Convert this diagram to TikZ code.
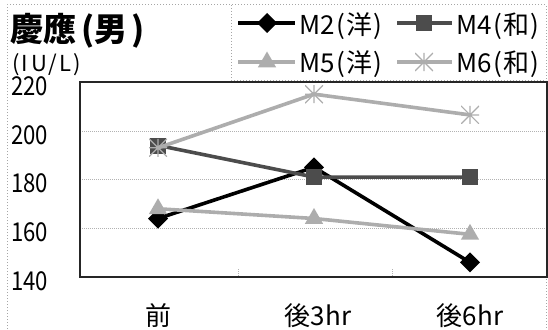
\documentclass[tikz,border=0pt]{standalone}
\usepackage{fontspec}
\setmainfont{Noto Sans CJK JP}
\usetikzlibrary{shapes.geometric}
\definecolor{darkser}{gray}{0.30}
\definecolor{lightser}{gray}{0.68}
\tikzset{
  diam/.style = {diamond, fill=black, minimum size=#1,
                 inner sep=0pt, outer sep=0pt},
  diam/.default = 20pt,
  sqr/.style = {rectangle, fill=darkser, draw=black!70, minimum size=#1,
                inner sep=0pt, outer sep=0pt},
  sqr/.default = 15pt,
  tri/.style = {regular polygon, regular polygon sides=3, fill=lightser,
                minimum size=#1, inner sep=0pt, outer sep=0pt},
  tri/.default = 21pt,
  ast/.style = {rectangle, minimum size=#1, inner sep=0pt, outer sep=0pt,
                path picture={
                  \draw[lightser, line width=1.2pt]
                    (path picture bounding box.north) -- (path picture bounding box.south)
                    (path picture bounding box.east) -- (path picture bounding box.west)
                    (path picture bounding box.north east) -- (path picture bounding box.south west)
                    (path picture bounding box.north west) -- (path picture bounding box.south east);}},
  ast/.default = 18pt,
  grid/.style = {gray!60, densely dotted, line width=1pt},
  frame/.style = {gray!70, dotted, line width=1pt},
  ser/.style = {line width=3.6pt, line join=round},
  lab/.style = {inner sep=0pt, font=\fontsize{26}{26}\selectfont}
}
\newcommand\narrow[1]{\scalebox{0.85}[1]{#1}}

\begin{document}
\begin{tikzpicture}[x=1pt, y=-1pt]
	\def \xa{158}
	\def \xb{314}
	\def \xc{470}
	\def \ytop{82}
	\def \ybot{277}
	\def \xl{80}
	\def \xr{547}

	\useasboundingbox (0,0) rectangle (548,329);

	% Outer frame and legend frame
	\draw[frame] (7,335) -- (7,5) -- (546,5) -- (546,335);
	\draw[frame] (231,5) -- (231,80) -- (546,80);

	% Grid lines
	\draw[grid] (\xl,131)   -- (\xr,131);   % 200
	\draw[grid] (\xl,179.5) -- (\xr,179.5); % 180
	\draw[grid] (\xl,228)   -- (\xr,228);   % 160
	\draw[grid] (238,269) -- (238,\ybot);
	\draw[grid] (392,269) -- (392,\ybot);

	% Plot box
	\draw[black!85, line width=1.4pt] (\xl,\ytop) rectangle (\xr,\ybot);

	% Data (value -> pixel)
	\begin{scope}[shift={(0,618.25)}, yscale=-2.4375]
		\coordinate (m2a) at (\xa,164);
		\coordinate (m2b) at (\xb,185);
		\coordinate (m2c) at (\xc,146);
		\coordinate (m4a) at (\xa,194);
		\coordinate (m4b) at (\xb,181);
		\coordinate (m4c) at (\xc,181);
		\coordinate (m5a) at (\xa,168);
		\coordinate (m5b) at (\xb,164);
		\coordinate (m5c) at (\xc,157.5);
		\coordinate (m6a) at (\xa,193);
		\coordinate (m6b) at (\xb,215);
		\coordinate (m6c) at (\xc,206.5);
	\end{scope}

	% M2
	\draw[ser, black] (m2a) -- (m2b) -- (m2c);
	\node[diam] (d2a) at (m2a) {};
	\node[diam] (d2b) at (m2b) {};
	\node[diam] (d2c) at (m2c) {};
	% M4
	\draw[ser, darkser] (m4a) -- (m4b) -- (m4c);
	\node[sqr] (d4a) at (m4a) {};
	\node[sqr] (d4b) at (m4b) {};
	\node[sqr] (d4c) at (m4c) {};
	% M5
	\draw[ser, lightser] (m5a) -- (m5b) -- (m5c);
	\node[tri] (d5a) at (m5a) {};
	\node[tri] (d5b) at (m5b) {};
	\node[tri] (d5c) at (m5c) {};
	% M6
	\draw[ser, lightser] (m6a) -- (m6b) -- (m6c);
	\node[ast] (d6a) at (m6a) {};
	\node[ast] (d6b) at (m6b) {};
	\node[ast] (d6c) at (m6c) {};

	% Title
	\node[anchor=west, inner sep=0pt, font=\fontsize{33}{33}\selectfont\bfseries] (title) at (10,31) {慶應\hspace{5pt}(男\hspace{4pt})};
	\node[anchor=west, inner sep=0pt, font=\fontsize{22}{22}\selectfont] (unit) at (12,65) {(\hspace{2pt}I\hspace{3pt}U\hspace{2pt}/\hspace{2pt}L\hspace{2pt})};

	% Y labels
	\node[lab, anchor=west] (y220) at (11,86)    {\narrow{220}};
	\node[lab, anchor=west] (y200) at (11,135)   {\narrow{200}};
	\node[lab, anchor=west] (y180) at (11,183.5) {\narrow{180}};
	\node[lab, anchor=west] (y160) at (11,232)   {\narrow{160}};
	\node[lab, anchor=west] (y140) at (11,281)   {\narrow{140}};

	% X labels
	\node[lab] (xa) at (\xa,316) {前};
	\node[lab] (xb) at (\xb+4,316) {後3hr};
	\node[lab] (xc) at (\xc,316) {後6hr};

	% Legend
	\coordinate (l2w) at (238,23);  \coordinate (l2e) at (295,23);
	\coordinate (l4w) at (397,23);  \coordinate (l4e) at (452,23);
	\coordinate (l5w) at (238,62);  \coordinate (l5e) at (295,62);
	\coordinate (l6w) at (397,62);  \coordinate (l6e) at (452,62);
	\draw[ser, black] (l2w) -- (l2e);
	\draw[ser, darkser] (l4w) -- (l4e);
	\draw[ser, lightser] (l5w) -- (l5e);
	\draw[ser, lightser] (l6w) -- (l6e);
	\node[diam] (k2) at (267,23) {};
	\node[sqr] (k4) at (424,23) {};
	\node[tri] (k5) at (267,62) {};
	\node[ast] (k6) at (424,62) {};
	\node[lab, anchor=west] (t2) at (299,26) {M2\hspace{2pt}(\hspace{1pt}洋\hspace{1pt})};
	\node[lab, anchor=west] (t4) at (456,26) {M4\hspace{2pt}(\hspace{1pt}和\hspace{1pt})};
	\node[lab, anchor=west] (t5) at (299,64) {M5\hspace{2pt}(\hspace{1pt}洋\hspace{1pt})};
	\node[lab, anchor=west] (t6) at (456,64) {M6\hspace{2pt}(\hspace{1pt}和\hspace{1pt})};
\end{tikzpicture}
\end{document}
